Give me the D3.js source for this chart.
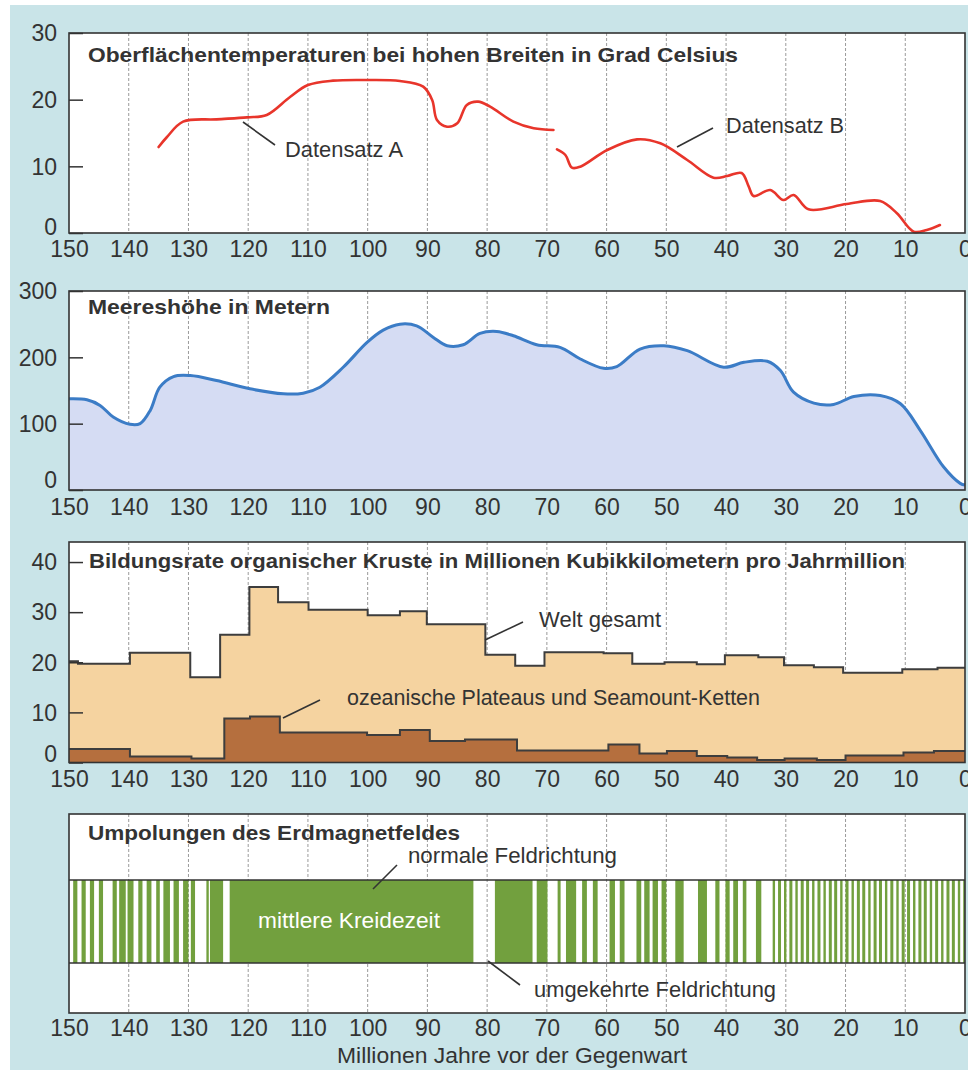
<!DOCTYPE html>
<html>
<head>
<meta charset="utf-8">
<script src="https://cdn.jsdelivr.net/npm/d3@7"></script>
<style>
  body { margin: 0; background: #fff; }
  svg { display: block; }
  text { font-family: "Liberation Sans", Arial, sans-serif; fill: #333; }
</style>
</head>
<body>
<svg></svg>
<script>
// ages in million years, 150 -> 0
const ageTicks = [150, 140, 130, 120, 110, 100, 90, 80, 70, 60, 50, 40, 30, 20, 10, 0];
const gridAges = [140, 130, 120, 110, 100, 90, 80, 70, 60, 50, 40, 30, 20, 10];

// surface temperature at high latitudes, deg C
const datensatzA = [[135, 12.9], [133.6, 14.4], [130.9, 16.7], [125.3, 17.05], [120.2, 17.35], [116.9, 17.7],
  [113, 20.4], [110, 22.2], [105.8, 22.85], [100.1, 22.95], [94.6, 22.8], [90.7, 21.95], [89.2, 19.95],
  [88.4, 16.95], [86.7, 15.95], [85, 16.45], [83.4, 19.2], [81.5, 19.7], [79.5, 18.95], [75.6, 16.7],
  [72.2, 15.7], [68.9, 15.45]];
const datensatzB = [[68.3, 12.55], [66.9, 11.7], [65.8, 9.8], [64.4, 9.95], [59.9, 12.45], [54.9, 14.05],
  [51, 13.45], [46.5, 10.95], [42.1, 8.3], [39.8, 8.55], [37.4, 9.0], [36.2, 6.95], [35.4, 5.55],
  [32.6, 6.45], [30.4, 4.95], [28.7, 5.7], [26.2, 3.55], [19.8, 4.35], [14.2, 4.8], [11.4, 2.95],
  [8.6, 0.2], [6.4, 0.45], [4.2, 1.2]];

// sea level in metres
const meereshoehe = [[150, 137.5], [147, 136], [144.8, 127.5], [142.6, 110], [139.8, 99], [138.1, 100],
  [136.4, 120], [134.8, 155], [132.5, 171], [129.7, 172.5], [125.3, 165], [119.7, 152.5], [114.1, 145],
  [110.8, 146], [108, 155], [104.1, 185], [100.1, 222.5], [97.4, 241], [94.6, 250], [91.8, 247.5],
  [89, 230], [86.7, 217.5], [84, 219], [81.2, 236], [78.4, 239], [75.6, 232.5], [71.7, 219], [67.8, 215],
  [64.4, 197.5], [60.5, 183.5], [58.3, 186], [54.4, 212.5], [50.4, 217.5], [46.5, 210], [40.4, 185],
  [37, 192.5], [33.1, 194], [30.9, 180], [28.7, 147.5], [25.3, 131], [22, 129], [18.6, 141], [14.2, 142.5],
  [10.8, 130], [7.5, 90], [3.6, 35], [0.8, 10], [0, 7.5]];

// crust production, step start age + value (million km3 per Myr)
const weltGesamt = [[150, 20.2], [148.5, 19.7], [139.8, 21.9], [129.7, 17.0], [124.7, 25.5], [119.8, 35.0],
  [115.0, 32.0], [109.9, 30.5], [100.0, 29.4], [94.6, 30.2], [90.1, 27.6], [80.3, 21.5], [75.3, 19.3],
  [70.4, 22.0], [60.5, 21.8], [55.7, 19.7], [50.3, 20.0], [44.9, 19.6], [40.2, 21.4], [34.6, 21.0],
  [30.3, 19.4], [25.3, 19.0], [20.4, 17.9], [10.5, 18.6], [4.6, 18.9], [0, 18.9]];
const ozeanPlateaus = [[150, 2.7], [139.8, 1.2], [129.5, 0.8], [124.0, 8.8], [119.7, 9.2], [114.7, 6.0],
  [100.1, 5.5], [94.6, 6.5], [89.6, 4.3], [83.7, 4.6], [75.0, 2.4], [59.7, 3.6], [54.5, 1.8], [49.9, 2.3],
  [44.9, 1.3], [39.8, 1.0], [34.8, 0.5], [30.2, 0.8], [24.8, 0.5], [20.0, 1.4], [10.3, 2.0], [5.2, 2.3],
  [0, 2.3]];

// normal polarity intervals [from, to]
const normalPolarity = [[149.3, 148.6], [147.9, 147.2], [146.5, 145.8], [145.0, 144.3], [142.7, 142.0],
  [141.6, 140.5], [140.2, 139.2], [138.4, 137.7], [137.0, 136.2], [135.4, 134.8], [134.2, 133.1],
  [132.5, 131.6], [130.9, 130.0], [129.6, 128.9], [127.0, 126.6], [126.4, 124.2], [123.1, 82.3],
  [78.7, 72.4], [71.7, 69.9], [68.2, 67.7], [66.8, 65.1], [64.1, 63.3], [62.3, 61.5], [59.5, 58.6],
  [57.8, 57.0], [55.0, 54.2], [53.7, 52.8], [52.3, 51.4], [50.8, 50.0], [48.5, 47.1], [44.7, 43.2],
  [41.8, 41.1], [40.1, 39.4], [38.8, 38.0], [37.2, 36.6], [35.0, 34.1],
  [32.2, 31.8], [31.3, 30.8], [30.3, 29.9], [29.4, 28.9], [28.4, 28.0], [27.5, 27.0], [26.6, 26.1],
  [25.6, 25.2], [24.7, 24.2], [23.7, 23.3], [22.8, 22.3], [21.9, 21.4], [20.9, 20.5], [20.0, 19.5],
  [19.0, 18.6], [18.1, 17.6], [17.2, 16.7], [16.2, 15.8], [15.3, 14.8], [14.4, 13.9], [13.4, 13.0],
  [12.5, 12.0], [11.5, 11.1], [10.6, 10.1], [9.7, 9.2], [8.7, 8.3], [7.8, 7.3], [6.9, 6.4], [5.9, 5.5],
  [5.0, 4.5], [4.0, 3.6], [3.1, 2.6], [2.2, 1.7], [1.2, 0.8], [0.3, 0]];

const width = 968;
const height = 1070;
const left = 69;
const right = 965;

const svg = d3.select('svg')
  .attr('width', width)
  .attr('height', height);

const xScale = d3.scaleLinear().domain([150, 0]).range([left, right]);

const panels = [
  { top: 33, bottom: 233, max: 30, ticks: [0, 10, 20, 30], zeroDy: '0.05em', xPad: 8 },
  { top: 291, bottom: 490, max: 300, ticks: [0, 100, 200, 300], zeroDy: '-0.1em', xPad: 9 },
  { top: 542, bottom: 762.5, max: 44, ticks: [0, 10, 20, 30, 40], zeroDy: '-0.05em', xPad: 8 },
  { top: 814, bottom: 1013, max: 1, ticks: null, xPad: 7 }
];

svg.append('rect').attr('x', 10).attr('y', 5).attr('width', width - 10).attr('height', height - 5)
  .attr('fill', '#c9e4e8');

const drawFrame = (p) => {
  const g = svg.append('g');
  p.y = d3.scaleLinear().domain([0, p.max]).range([p.bottom, p.top]);

  g.append('rect')
    .attr('x', left).attr('y', p.top)
    .attr('width', right - left).attr('height', p.bottom - p.top)
    .attr('fill', '#fff');

  g.selectAll('.grid')
    .data(gridAges)
    .enter()
    .append('line')
    .attr('x1', d => xScale(d)).attr('x2', d => xScale(d))
    .attr('y1', p.top).attr('y2', p.bottom)
    .attr('stroke', '#9a9a9a')
    .attr('stroke-width', 1)
    .attr('stroke-dasharray', '3,2');

  const xAxis = d3.axisBottom(xScale)
    .tickValues(ageTicks)
    .tickSize(0)
    .tickPadding(p.xPad)
    .tickFormat(d3.format('d'));

  const xg = svg.append('g')
    .attr('transform', `translate(0, ${p.bottom})`)
    .call(xAxis);
  xg.select('.domain').remove();
  xg.selectAll('text').style('font-size', '23px').attr('fill', '#333');

  p.g = g;
  return g;
};

const drawYAxis = (p) => {
  const yAxis = d3.axisLeft(p.y)
    .tickValues(p.ticks)
    .tickSizeInner(-14)
    .tickSizeOuter(0)
    .tickPadding(12);
  const yg = svg.append('g')
    .attr('transform', `translate(${left}, 0)`)
    .call(yAxis);
  yg.select('.domain').remove();
  yg.selectAll('line').attr('stroke', '#333').attr('stroke-width', 1.5);
  yg.selectAll('text')
    .style('font-size', '23px')
    .attr('fill', '#333')
    .attr('dy', d => d === 0 ? p.zeroDy : '0.34em');
};

const drawBorder = (p) => {
  svg.append('rect')
    .attr('x', left).attr('y', p.top)
    .attr('width', right - left).attr('height', p.bottom - p.top)
    .attr('fill', 'none')
    .attr('stroke', '#333')
    .attr('stroke-width', 1.6);
};

const title = (txt, x, y, len) => {
  svg.append('text')
    .attr('x', x).attr('y', y)
    .attr('textLength', len)
    .attr('lengthAdjust', 'spacingAndGlyphs')
    .style('font-size', '21px')
    .style('font-weight', 'bold')
    .attr('fill', '#333')
    .text(txt);
};

const label = (txt, x, y, len, color) => {
  svg.append('text')
    .attr('x', x).attr('y', y)
    .attr('textLength', len)
    .attr('lengthAdjust', 'spacingAndGlyphs')
    .style('font-size', '22px')
    .style('fill', color || '#333')
    .text(txt);
};

const leader = (x1, y1, x2, y2) => {
  svg.append('line')
    .attr('x1', x1).attr('y1', y1).attr('x2', x2).attr('y2', y2)
    .attr('stroke', '#333').attr('stroke-width', 1.6);
};

// panel 1: temperatures
const drawTemperature = () => {
  const p = panels[0];
  const g = drawFrame(p);
  const line = d3.line()
    .x(d => xScale(d[0]))
    .y(d => p.y(d[1]))
    .curve(d3.curveCatmullRom.alpha(0.5));
  [datensatzA, datensatzB].forEach(series => {
    g.append('path')
      .datum(series)
      .attr('d', line)
      .attr('fill', 'none')
      .attr('stroke', '#e8352b')
      .attr('stroke-width', 2.6)
      .attr('stroke-linecap', 'round');
  });
  drawYAxis(p);
  drawBorder(p);
  title('Oberflächentemperaturen bei hohen Breiten in Grad Celsius', 88, 62, 650);
  leader(243, 122, 275, 145);
  label('Datensatz A', 285, 157, 118);
  leader(677, 147, 713, 128);
  label('Datensatz B', 726, 133, 118);
};

// panel 2: sea level
const drawSeaLevel = () => {
  const p = panels[1];
  const g = drawFrame(p);
  const area = d3.area()
    .x(d => xScale(d[0]))
    .y0(p.y(0))
    .y1(d => p.y(d[1]))
    .curve(d3.curveCatmullRom.alpha(0.5));
  const line = d3.line()
    .x(d => xScale(d[0]))
    .y(d => p.y(d[1]))
    .curve(d3.curveCatmullRom.alpha(0.5));
  g.append('path').datum(meereshoehe).attr('d', area).attr('fill', '#d5dcf3');
  g.append('path').datum(meereshoehe).attr('d', line)
    .attr('fill', 'none').attr('stroke', '#3b7cc6').attr('stroke-width', 3);
  drawYAxis(p);
  drawBorder(p);
  title('Meereshöhe in Metern', 88, 314, 242);
};

// panel 3: crust production
const drawCrust = () => {
  const p = panels[2];
  const g = drawFrame(p);
  const area = d3.area()
    .x(d => xScale(d[0]))
    .y0(p.y(0))
    .y1(d => p.y(d[1]))
    .curve(d3.curveStepAfter);
  const line = d3.line()
    .x(d => xScale(d[0]))
    .y(d => p.y(d[1]))
    .curve(d3.curveStepAfter);
  g.append('path').datum(weltGesamt).attr('d', area).attr('fill', '#f5d3a0');
  g.append('path').datum(weltGesamt).attr('d', line)
    .attr('fill', 'none').attr('stroke', '#3d3d3d').attr('stroke-width', 2);
  g.append('path').datum(ozeanPlateaus).attr('d', area).attr('fill', '#b56f3e');
  g.append('path').datum(ozeanPlateaus).attr('d', line)
    .attr('fill', 'none').attr('stroke', '#3d3d3d').attr('stroke-width', 2);
  drawYAxis(p);
  drawBorder(p);
  title('Bildungsrate organischer Kruste in Millionen Kubikkilometern pro Jahrmillion', 89, 568, 816);
  leader(485, 640, 523, 622);
  label('Welt gesamt', 539, 627, 122);
  leader(283, 718, 320, 700);
  label('ozeanische Plateaus und Seamount-Ketten', 347, 705, 413);
};

// panel 4: magnetic reversals
const drawMagnetic = () => {
  const p = panels[3];
  const g = drawFrame(p);
  const bandTop = 880;
  const bandBottom = 963;
  g.selectAll('.stripe')
    .data(normalPolarity)
    .enter()
    .append('rect')
    .attr('x', d => xScale(d[0]))
    .attr('y', bandTop)
    .attr('width', d => xScale(d[1]) - xScale(d[0]))
    .attr('height', bandBottom - bandTop)
    .attr('fill', '#72a03e');
  [bandTop, bandBottom].forEach(yy => {
    g.append('line')
      .attr('x1', left).attr('x2', right)
      .attr('y1', yy).attr('y2', yy)
      .attr('stroke', '#333').attr('stroke-width', 1.6);
  });
  drawBorder(p);
  title('Umpolungen des Erdmagnetfeldes', 88, 840, 372);
  leader(373, 889, 397, 865);
  label('normale Feldrichtung', 408, 863, 209);
  leader(488, 961, 520, 985);
  label('umgekehrte Feldrichtung', 534, 997, 242);
  label('mittlere Kreidezeit', 258, 928, 182, '#fff');
  label('Millionen Jahre vor der Gegenwart', 337, 1063, 350);
};

drawTemperature();
drawSeaLevel();
drawCrust();
drawMagnetic();
</script>
</body>
</html>
